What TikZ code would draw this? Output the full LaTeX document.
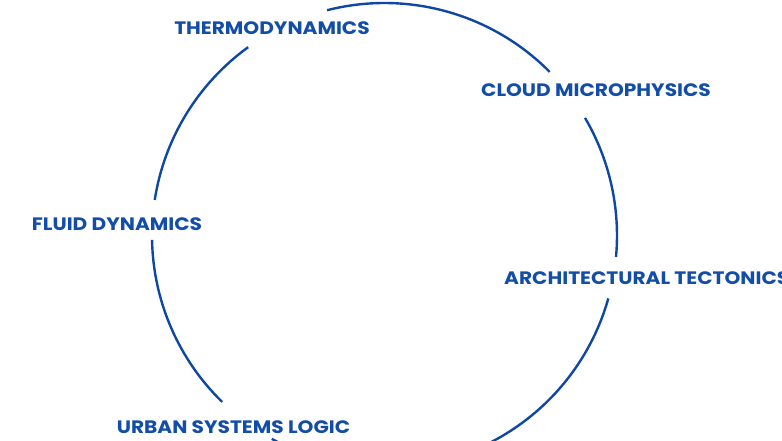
\documentclass[tikz,border=0pt]{standalone}
\usepackage{fontspec}
\setmainfont{Poppins}[FakeStretch=1.12]
\definecolor{ringblue}{RGB}{14,72,164}
\definecolor{labelblue}{RGB}{18,78,168}
\tikzset{
  ring/.style={draw=ringblue, line width=2.4pt},
  lbl/.style={text=labelblue, font=\fontsize{18}{21}\selectfont\bfseries, inner sep=0pt}
}
\begin{document}
\begin{tikzpicture}[x=1pt,y=1pt]
\useasboundingbox (0,0) rectangle (782,440);
\coordinate (c) at (384.5,204.5);
\def\R{232.5}
\clip (0,0) rectangle (782,440);
% ring arcs, broken where the labels sit
\draw[ring] ([shift={(44.7:\R)}]c) arc[start angle=44.7, end angle=104.3, radius=\R];
\draw[ring] ([shift={(-5.3:\R)}]c) arc[start angle=-5.3, end angle=30.4, radius=\R];
\draw[ring] ([shift={(-119:\R)}]c) arc[start angle=-119, end angle=-15.7, radius=\R];
\draw[ring] ([shift={(181.1:\R)}]c) arc[start angle=181.1, end angle=225.7, radius=\R];
\draw[ring] ([shift={(125.9:\R)}]c) arc[start angle=125.9, end angle=171.2, radius=\R];
% labels
\node[lbl] (thermo) at (272,411.5) {THERMODYNAMICS};
\node[lbl] (cloud) at (596,349.5) {CLOUD MICROPHYSICS};
\node[lbl, anchor=west] (arch) at (504,162) {ARCHITECTURAL TECTONICS};
\node[lbl] (fluid) at (117,216) {FLUID DYNAMICS};
\node[lbl] (urban) at (233.5,13) {URBAN SYSTEMS LOGIC};
\end{tikzpicture}
\end{document}
